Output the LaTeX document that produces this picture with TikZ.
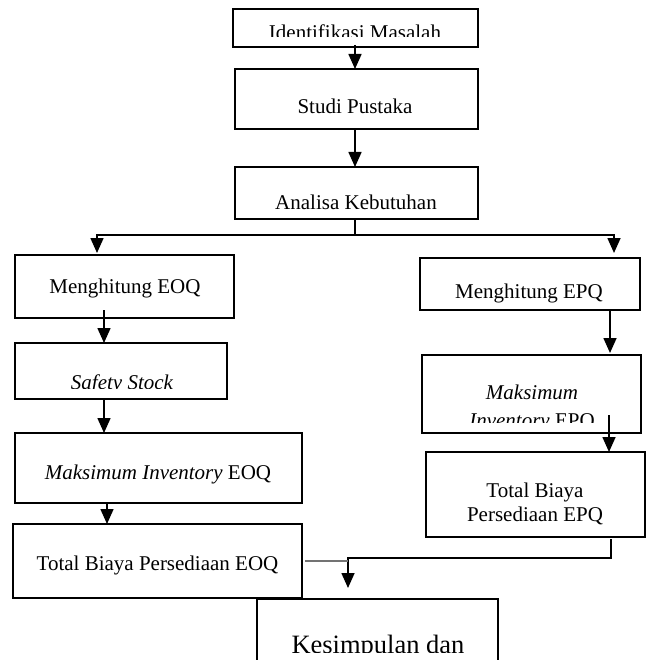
\documentclass[tikz,border=0pt]{standalone}
\usepackage{fontspec}
\setmainfont{Liberation Serif}
\usetikzlibrary{arrows.meta}
\begin{document}
\begin{tikzpicture}[x=1pt,y=-1pt,
  box/.style={draw=black,line width=2pt,rectangle,inner sep=0pt,outer sep=0pt},
  txt/.style={anchor=base,inner sep=0pt,outer sep=0pt,font=\fontsize{21}{25}\selectfont},
  bigtxt/.style={anchor=base,inner sep=0pt,outer sep=0pt,font=\fontsize{26.5}{31}\selectfont},
  arr/.style={draw=black,line width=1.6pt,-{Triangle[width=13pt,length=15pt]}},
  ln/.style={draw=black,line width=1.6pt},
  gl/.style={draw=black!55,line width=1.6pt}]
\useasboundingbox (0,0) rectangle (651,660);
\clip (0,0) rectangle (651,660);
% boxes
\node[box,minimum width=245pt,minimum height=38pt] (b1) at (355.5,28) {};
\node[box,minimum width=243pt,minimum height=60pt] (b2) at (356.5,99) {};
\node[box,minimum width=243pt,minimum height=52pt] (b3) at (356.5,193) {};
\node[box,minimum width=219pt,minimum height=63pt] (bL1) at (124.5,286.5) {};
\node[box,minimum width=220pt,minimum height=52pt] (bR1) at (530,284) {};
\node[box,minimum width=212pt,minimum height=56pt] (bL2) at (121,371) {};
\node[box,minimum width=219pt,minimum height=78pt] (bR2) at (531.5,394) {};
\node[box,minimum width=287pt,minimum height=70pt] (bL3) at (158.5,468) {};
\node[box,minimum width=219pt,minimum height=85pt] (bR3) at (535.5,494.5) {};
\node[box,minimum width=289pt,minimum height=74pt] (bL4) at (157.5,561) {};
\node[box,minimum width=241pt,minimum height=101pt] (b5) at (377.5,649.5) {};
% texts
\begin{scope}
\clip (233,9) rectangle (478,37);
\node[txt] (t1) at (355,40) {Identifikasi Masalah};
\end{scope}
\node[txt] (t2) at (355,114) {Studi Pustaka};
\node[txt] (t3) at (356,210) {Analisa Kebutuhan};
\node[txt] (tL1) at (125,293) {Menghitung EOQ};
\node[txt] (tR1) at (529,298) {Menghitung EPQ};
\begin{scope}
\clip (15,343) rectangle (227,388);
\node[txt] (tL2) at (122,389) {\itshape Safety Stock};
\end{scope}
\node[txt] (tR2a) at (532,399) {\itshape Maksimum};
\begin{scope}
\clip (422,400) rectangle (641,422);
\node[txt] (tR2b) at (532,427) {\textit{Inventory} EPQ};
\end{scope}
\node[txt] (tL3) at (158,479) {\textit{Maksimum Inventory} EOQ};
\node[txt] (tR3a) at (535,497) {Total Biaya};
\node[txt] (tR3b) at (535,521) {Persediaan EPQ};
\node[txt] (tL4) at (157.5,570) {Total Biaya Persediaan EOQ};
\begin{scope}
\clip (257,599) rectangle (498,652);
\node[bigtxt] (t5) at (378,653) {Kesimpulan dan};
\end{scope}
% connectors
\draw[arr] ([yshift=2pt]b1.south -| 355,0) -- (355,0 |- b2.north);
\draw[arr] (b2.south -| 355,0) -- (355,0 |- b3.north);
\coordinate (split) at (355,235);
\draw[ln] (b3.south -| 355,0) -- (split);
\draw[arr] (split) -| ([yshift=2pt]bL1.north -| 97,0);
\draw[arr] (split) -| ([yshift=5pt]bR1.north -| 614,0);
\draw[arr] ([yshift=8pt]bL1.south -| 104,0) -- (104,0 |- bL2.north);
\draw[arr] (bL2.south -| 104,0) -- (104,0 |- bL3.north);
\draw[arr] (bL3.south -| 107,0) -- (107,0 |- bL4.north);
\draw[arr] (bR1.south -| 610,0) -- ([yshift=2pt]bR2.north -| 610,0);
\draw[arr] ([yshift=18pt]bR2.south -| 609,0) -- (609,0 |- bR3.north);
\draw[arr] ([yshift=-2pt]bR3.south -| 611,0) -- ++(0,19) -| ([yshift=11pt]b5.north -| 348,0);
\coordinate (join) at (348,561);
\draw[gl] ([xshift=3pt]bL4.east) -- (join);
\end{tikzpicture}
\end{document}
